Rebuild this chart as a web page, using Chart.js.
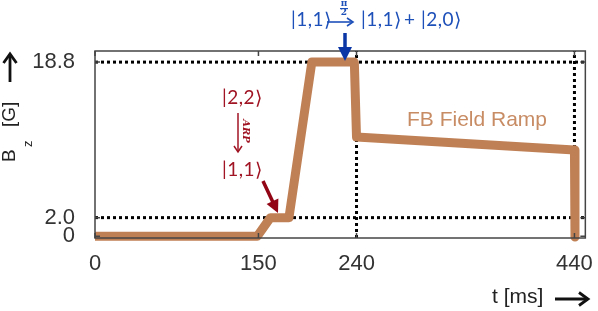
<!DOCTYPE html>
<html>
<head>
<meta charset="utf-8">
<script src="https://cdn.jsdelivr.net/npm/chart.js@4.4.1/dist/chart.umd.min.js"></script>
<style>
  html, body { margin: 0; padding: 0; background: #fff; }
  #wrap { width: 598px; height: 311px; }
</style>
</head>
<body>
<div id="wrap"><canvas id="ramp-chart" width="598" height="311"></canvas></div>
<script>
// Field ramp: time (ms) and B_z (G)
const rampTimes = [0, 149, 161, 178, 199, 238, 240, 440, 440.5];
const rampField = [0, 0, 2.0, 2.0, 18.8, 18.8, 10.7, 9.3, -0.1];

// Dotted guide lines
const guideLevels = [2.0, 18.8];
const guideTimes = [240, 440];

// Axis ticks
const xTicks = [0, 150, 240, 440];
const yTicks = [0, 2.0, 18.8];
const yTickLabels = ['0', '2.0', '18.8'];

const rampColor = 'rgb(192,128,85)';
const redColor = 'rgb(160,20,35)';
const blueColor = 'rgb(30,80,185)';
const xRange = [0, 450];
const yRange = [-0.2, 20];

function arrowHead(ctx, x1, y1, x2, y2, len, half, filled) {
    const a = Math.atan2(y2 - y1, x2 - x1);
    const bx = x2 - len * Math.cos(a), by = y2 - len * Math.sin(a);
    const px = -Math.sin(a) * half, py = Math.cos(a) * half;
    ctx.beginPath();
    ctx.moveTo(bx + px, by + py);
    ctx.lineTo(x2, y2);
    ctx.lineTo(bx - px, by - py);
    if (filled) { ctx.closePath(); ctx.fill(); } else { ctx.stroke(); }
}

function arrow(ctx, x1, y1, x2, y2, width, color, len, half, filled) {
    ctx.save();
    ctx.strokeStyle = color;
    ctx.fillStyle = color;
    ctx.lineWidth = width;
    const a = Math.atan2(y2 - y1, x2 - x1);
    const stop = filled ? len * 0.7 : 0;
    ctx.beginPath();
    ctx.moveTo(x1, y1);
    ctx.lineTo(x2 - stop * Math.cos(a), y2 - stop * Math.sin(a));
    ctx.stroke();
    ctx.lineJoin = 'miter';
    arrowHead(ctx, x1, y1, x2, y2, len, half, filled);
    ctx.restore();
}

// frame, inward ticks, axis titles and the annotations
const decorations = {
    id: 'decorations',
    afterDatasetsDraw(chart) {
        const ctx = chart.ctx;
        const area = chart.chartArea;
        const xs = chart.scales.x, ys = chart.scales.y;

        ctx.save();
        ctx.strokeStyle = '#444';
        ctx.lineWidth = 1.5;
        ctx.strokeRect(area.left, area.top, area.right - area.left, area.bottom - area.top);

        ctx.beginPath();
        xTicks.forEach(v => {
            const px = xs.getPixelForValue(v);
            ctx.moveTo(px, area.bottom); ctx.lineTo(px, area.bottom - 5);
            ctx.moveTo(px, area.top); ctx.lineTo(px, area.top + 5);
        });
        yTicks.forEach(v => {
            const py = ys.getPixelForValue(v);
            ctx.moveTo(area.left, py); ctx.lineTo(area.left + 5, py);
            ctx.moveTo(area.right, py); ctx.lineTo(area.right - 5, py);
        });
        ctx.stroke();

        // x title
        ctx.fillStyle = '#222';
        ctx.font = '21px "Liberation Sans", Arial, sans-serif';
        ctx.textBaseline = 'middle';
        ctx.textAlign = 'left';
        ctx.fillText('t [ms]', 492, 297);
        arrow(ctx, 555, 299, 588, 299, 2.8, '#111', 9, 6.5, false);

        // y title, rotated
        ctx.save();
        ctx.translate(15, 162);
        ctx.rotate(-Math.PI / 2);
        ctx.textBaseline = 'alphabetic';
        ctx.font = '19px "Liberation Sans", Arial, sans-serif';
        ctx.fillText('B', 0, 0);
        ctx.font = '13px "Liberation Sans", Arial, sans-serif';
        ctx.fillText('z', 15, 17);
        ctx.font = '19px "Liberation Sans", Arial, sans-serif';
        ctx.fillText('[G]', 35, 0);
        ctx.restore();
        arrow(ctx, 10, 82, 10, 54, 2.8, '#111', 9, 6.5, false);

        // FB label
        ctx.fillStyle = 'rgb(200,140,100)';
        ctx.font = '21px "Liberation Sans", Arial, sans-serif';
        ctx.fillText('FB Field Ramp', 407, 120);

        // red ARP annotation
        const ketFont = '19px Lato, "DejaVu Sans", sans-serif';
        ctx.fillStyle = redColor;
        ctx.font = ketFont;
        ctx.letterSpacing = '0.5px';
        ctx.fillText('|2,2\u27E9', 222, 98);
        ctx.fillText('|1,1\u27E9', 222, 170);
        arrow(ctx, 238, 113, 238, 152, 1.5, redColor, 6, 4, false);
        ctx.save();
        ctx.letterSpacing = '0px';
        ctx.translate(246, 131);
        ctx.rotate(Math.PI / 2);
        ctx.textAlign = 'center';
        ctx.font = 'bold italic 10px "DejaVu Serif", serif';
        ctx.fillText('ARP', 0, 0);
        ctx.restore();
        arrow(ctx, 263, 181, 278, 213, 3.5, 'rgb(145,5,20)', 13, 6.5, true);

        // blue pi/2 annotation
        ctx.fillStyle = blueColor;
        ctx.font = ketFont;
        ctx.fillText('|1,1\u27E9', 291, 20);
        ctx.fillText('|1,1\u27E9', 361, 20);
        ctx.fillText('|2,0\u27E9', 421, 20);
        ctx.letterSpacing = '0px';
        ctx.fillText('+', 404, 20);
        arrow(ctx, 327, 22, 353, 22, 1.6, blueColor, 6, 4, false);
        ctx.textAlign = 'center';
        ctx.font = 'bold 9px "DejaVu Serif", serif';
        ctx.fillText('\u03C0', 344, 4);
        ctx.fillRect(340, 8, 8, 1.2);
        ctx.fillText('2', 344, 13);
        arrow(ctx, 345, 33, 345, 61, 3.5, 'rgb(10,55,165)', 14, 7, true);

        ctx.restore();
    }
};

function pairs(xs, ys) {
    return xs.map((x, i) => ({ x: x, y: ys[i] }));
}

const datasets = [{
    label: 'FB Field Ramp',
    data: pairs(rampTimes, rampField),
    borderColor: rampColor,
    borderWidth: 9,
    borderJoinStyle: 'round',
    pointRadius: 0,
    clip: false,
    order: 0
}];
guideLevels.forEach(level => {
    datasets.push({
        data: pairs(xRange, [level, level]),
        borderColor: '#000',
        borderWidth: 3,
        borderDash: [3, 3],
        pointRadius: 0,
        order: 1
    });
});
guideTimes.forEach(t => {
    datasets.push({
        data: pairs([t, t], yRange),
        borderColor: '#000',
        borderWidth: 3,
        borderDash: [3, 3],
        pointRadius: 0,
        order: 1
    });
});

const tickFont = { family: '"Liberation Sans", Arial, sans-serif', size: 22 };

new Chart(document.getElementById('ramp-chart'), {
    type: 'line',
    data: { datasets: datasets },
    options: {
        responsive: false,
        animation: false,
        devicePixelRatio: 1,
        layout: { padding: { left: 0, top: 51, right: 9, bottom: 0 } },
        plugins: { legend: { display: false }, tooltip: { enabled: false } },
        scales: {
            x: {
                type: 'linear',
                min: xRange[0],
                max: xRange[1],
                afterBuildTicks: scale => { scale.ticks = xTicks.map(v => ({ value: v })); },
                afterFit: scale => { scale.height = 73; },
                grid: { display: false },
                border: { display: false },
                ticks: { font: tickFont, color: '#333', padding: 5, maxRotation: 0, autoSkip: false }
            },
            y: {
                type: 'linear',
                min: yRange[0],
                max: yRange[1],
                afterBuildTicks: scale => { scale.ticks = yTicks.map(v => ({ value: v })); },
                afterFit: scale => { scale.width = 95; },
                grid: { display: false },
                border: { display: false },
                ticks: {
                    font: tickFont,
                    color: '#333',
                    padding: 12,
                    autoSkip: false,
                    callback: (value, index) => yTickLabels[index]
                }
            }
        }
    },
    plugins: [decorations]
});
</script>
</body>
</html>
